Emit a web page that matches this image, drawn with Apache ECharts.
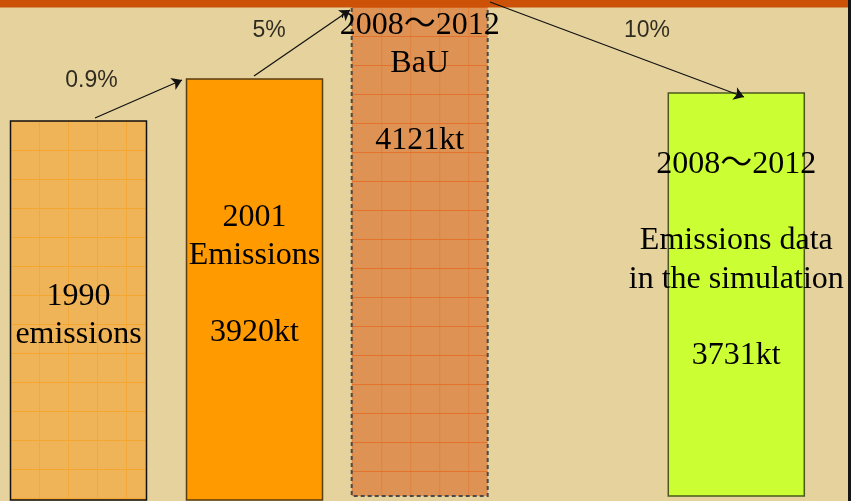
<!DOCTYPE html>
<html><head><meta charset="utf-8">
<script src="https://cdn.jsdelivr.net/npm/echarts@6/dist/echarts.min.js"></script>
<style>
html,body{margin:0;padding:0;background:#161616;overflow:hidden}
#chart{width:848px;height:501px}
</style></head><body><div id="chart"></div>
<script>
// ---- data ----
const barTitles = ['1990\nemissions', '2001\nEmissions', '2008～2012\nBaU', '2008～2012\n\nEmissions data\nin the simulation'];
const emissionsKt = [null, 3920, 4121, 3731];
const barPosition = [78.5, 254.5, 419.7, 736.3];   // horizontal slot of each bar (chart units)
const barBase = [1, 1, 5, 5];                      // bar bottoms (chart units)
const barTop = [380, 422, 495, 408];               // bar heights as drawn (chart units)
const changeLabels = ['0.9%', '5%', '10%'];
const changeLabelPos = [[91.5, 420], [269, 470], [647, 470]];
const arrowFrom = [[95, 383], [254, 425], [490, 499]];
const arrowTo = [[182, 421], [350, 491], [744, 404]];

// ---- styles ----
function gridTile(fill, lineV, lineH, ox, oy, lw) {
  const c = document.createElement('canvas');
  c.width = 29; c.height = 29;
  const g = c.getContext('2d');
  g.fillStyle = fill; g.fillRect(0, 0, 29, 29);
  g.lineWidth = lw;
  g.strokeStyle = lineV;
  g.beginPath(); g.moveTo(ox, 0); g.lineTo(ox, 29); g.stroke();
  g.strokeStyle = lineH;
  g.beginPath(); g.moveTo(0, oy); g.lineTo(29, oy); g.stroke();
  return c;
}
const barWidthUnits = 136;
const barStyles = [
  {fill: {image: gridTile('#EFB457', '#F3A93A', '#F5A630', 10.5, 5.5, 1), repeat: 'repeat'}, stroke: '#111', lw: 1.5, dash: null, textOffset: 156.3},
  {fill: '#FF9A00', stroke: '#5A3D10', lw: 1.5, dash: null, textOffset: 119.3},
  {fill: {image: gridTile('#DE9354', '#E0823F', '#E3722C', 4.7, 7.5, 1), repeat: 'repeat'}, stroke: '#4A4A4A', lw: 2, dash: [4, 3], textOffset: 0.3},
  {fill: '#CCFF33', stroke: '#4A5820', lw: 1.5, dash: null, textOffset: 52.3}
];
const labelText = barTitles.map((t, i) => emissionsKt[i] == null ? t : t + '\n\n' + emissionsKt[i] + 'kt');
const barData = barPosition.map((x, i) => [x, barBase[i], barTop[i]]);

const chart = echarts.init(document.getElementById('chart'));
chart.setOption({
  animation: false,
  backgroundColor: '#E5D29C',
  grid: {left: 0, right: 0, top: 0, bottom: 0},
  xAxis: {type: 'value', min: 0, max: 848, show: false},
  yAxis: {type: 'value', min: 0, max: 501, show: false},
  graphic: [{type: 'rect', left: 0, top: 0, z: 3, shape: {width: 848, height: 7.5}, style: {fill: '#CC5208'}}],
  series: [
    {
      type: 'custom', z: 2, silent: true,
      data: barData,
      renderItem: function (params, api) {
        const i = params.dataIndex;
        const x = api.value(0), b = api.value(1), t = api.value(2);
        const pTop = api.coord([x, t]);
        const pBot = api.coord([x, b]);
        const w = api.size([barWidthUnits, 0])[0];
        const st = barStyles[i];
        return {type: 'group', children: [
          {type: 'rect', shape: {x: pTop[0] - w / 2, y: pTop[1], width: w, height: pBot[1] - pTop[1]},
           style: {fill: st.fill, stroke: st.stroke, lineWidth: st.lw, lineDash: st.dash}},
          {type: 'text', z2: 10, style: {text: labelText[i], x: pTop[0], y: pTop[1] + st.textOffset,
            align: 'center', verticalAlign: 'top', fontSize: 32, lineHeight: 38.3,
            fontFamily: '"Liberation Serif", "Noto Sans CJK JP", serif', fill: '#000'}}
        ]};
      }
    },
    {
      type: 'lines', coordinateSystem: 'cartesian2d', z: 5, silent: true,
      symbol: ['none', 'arrow'], symbolSize: [0, 10],
      lineStyle: {color: '#111', width: 1.2, opacity: 1, curveness: 0},
      data: arrowFrom.map((f, i) => ({coords: [f, arrowTo[i]]}))
    },
    {
      type: 'scatter', z: 6, silent: true, symbolSize: 1,
      itemStyle: {color: 'transparent'},
      data: changeLabelPos.map((p, i) => ({value: p, label: {formatter: changeLabels[i]}})),
      label: {show: true, position: 'inside', color: '#000', fontSize: 23, fontFamily: '"Liberation Sans", Arial, sans-serif'}
    }
  ]
});
</script></body></html>
